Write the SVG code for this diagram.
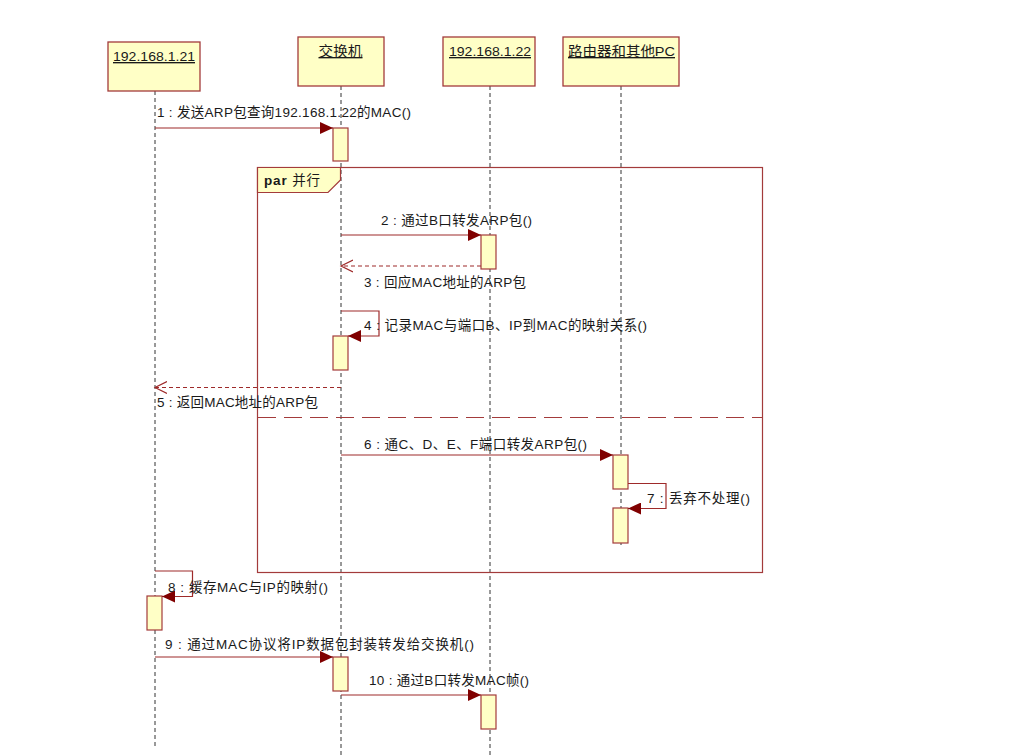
<svg xmlns="http://www.w3.org/2000/svg" width="1024" height="755" viewBox="0 0 1024 755">
<defs>
<style>
text{font-family:"Liberation Sans","Noto Sans CJK SC",sans-serif;font-size:13.5px;fill:#1a1a1a}
.box{fill:#FFFFC6;stroke:#A33B3B;stroke-width:1.3}
.act{fill:#FFFFC6;stroke:#A33B3B;stroke-width:1.2}
.life{stroke:#333;stroke-width:1;stroke-dasharray:4 3;fill:none}
.msg{stroke:#9E2A2A;stroke-width:1.2;fill:none}
.ret{stroke:#9E2A2A;stroke-width:1.2;fill:none;stroke-dasharray:4 3}
.frame{fill:none;stroke:#A33B3B;stroke-width:1.2}
.sep{stroke:#A33B3B;stroke-width:1.2;stroke-dasharray:18 8}
.title{text-decoration:underline}
</style>
<marker id="filled" markerWidth="14" markerHeight="12" refX="13" refY="6" orient="auto" markerUnits="userSpaceOnUse">
<path d="M0,0 L13,6 L0,12 Z" fill="#800000"/>
</marker>
<marker id="open" markerWidth="14" markerHeight="14" refX="12" refY="7" orient="auto" markerUnits="userSpaceOnUse">
<path d="M0,1 L12,7 L0,13" fill="none" stroke="#9E2A2A" stroke-width="1.2"/>
</marker>
</defs>
<rect width="1024" height="755" fill="#fff"/>

<g id="lifelines">
<line class="life" x1="155" y1="91" x2="155" y2="748"/>
<line class="life" x1="341" y1="86" x2="341" y2="755"/>
<line class="life" x1="490" y1="86" x2="490" y2="755"/>
<line class="life" x1="621" y1="86" x2="621" y2="548"/>
</g>

<g id="node-host21">
<rect class="box" x="108" y="42" width="92" height="49"/>
<text class="title" x="113" y="61" textLength="82" lengthAdjust="spacingAndGlyphs">192.168.1.21</text>
</g>
<g id="node-switch">
<rect class="box" x="298" y="37" width="86" height="49"/>
<text class="title" x="318.5" y="56" textLength="44" lengthAdjust="spacingAndGlyphs">交换机</text>
</g>
<g id="node-host22">
<rect class="box" x="443" y="37" width="92" height="49"/>
<text class="title" x="449" y="56" textLength="82" lengthAdjust="spacingAndGlyphs">192.168.1.22</text>
</g>
<g id="node-router">
<rect class="box" x="563" y="37" width="116" height="49"/>
<text class="title" x="568" y="56" textLength="107" lengthAdjust="spacingAndGlyphs">路由器和其他PC</text>
</g>

<g id="frame-par">
<rect class="frame" x="257.5" y="167.5" width="505" height="405"/>
<path d="M257.5,167.5 H340.5 V180 L328,192.5 H257.5 Z" fill="#FFFFC6" stroke="#A33B3B" stroke-width="1.2"/>
<text x="264" y="185" textLength="56"><tspan font-weight="bold">par</tspan> 并行</text>
<line class="sep" x1="258" y1="417.5" x2="762" y2="417.5"/>
</g>

<g id="activations">
<rect class="act" x="333" y="128" width="15" height="33"/>
<rect class="act" x="481" y="235" width="15" height="34"/>
<rect class="act" x="333" y="336" width="15" height="34"/>
<rect class="act" x="613" y="455" width="15" height="34"/>
<rect class="act" x="613" y="508" width="15" height="35"/>
<rect class="act" x="147" y="596" width="15" height="34"/>
<rect class="act" x="333" y="657" width="15" height="34"/>
<rect class="act" x="481" y="695" width="15" height="34"/>
</g>

<g id="connectors">
<line class="msg" x1="155" y1="128" x2="333" y2="128" marker-end="url(#filled)"/>
<line class="msg" x1="341" y1="235" x2="481" y2="235" marker-end="url(#filled)"/>
<line class="ret" x1="481" y1="266" x2="341" y2="266" marker-end="url(#open)"/>
<polyline class="msg" points="341,311 379,311 379,336 348,336" marker-end="url(#filled)"/>
<line class="ret" x1="341" y1="387.5" x2="155" y2="387.5" marker-end="url(#open)"/>
<line class="msg" x1="341" y1="455" x2="613" y2="455" marker-end="url(#filled)"/>
<polyline class="msg" points="628,483.5 666,483.5 666,508.5 628,508.5" marker-end="url(#filled)"/>
<polyline class="msg" points="155,571 192.5,571 192.5,596.5 162,596.5" marker-end="url(#filled)"/>
<line class="msg" x1="155" y1="657" x2="333" y2="657" marker-end="url(#filled)"/>
<line class="msg" x1="341" y1="695" x2="481" y2="695" marker-end="url(#filled)"/>
</g>

<g id="labels">
<text x="157" y="117" textLength="254">1 : 发送ARP包查询192.168.1.22的MAC()</text>
<text x="381" y="225" textLength="151">2 : 通过B口转发ARP包()</text>
<text x="364" y="287" textLength="162">3 : 回应MAC地址的ARP包</text>
<text x="364" y="330" textLength="283">4 : 记录MAC与端口B、IP到MAC的映射关系()</text>
<text x="157" y="407" textLength="161">5 : 返回MAC地址的ARP包</text>
<text x="364" y="449" textLength="223">6 : 通C、D、E、F端口转发ARP包()</text>
<text x="647" y="503" textLength="103">7 : 丢弃不处理()</text>
<text x="168" y="592" textLength="160">8 : 缓存MAC与IP的映射()</text>
<text x="165" y="649" textLength="309">9 : 通过MAC协议将IP数据包封装转发给交换机()</text>
<text x="369" y="685" textLength="160">10 : 通过B口转发MAC帧()</text>
</g>
</svg>
